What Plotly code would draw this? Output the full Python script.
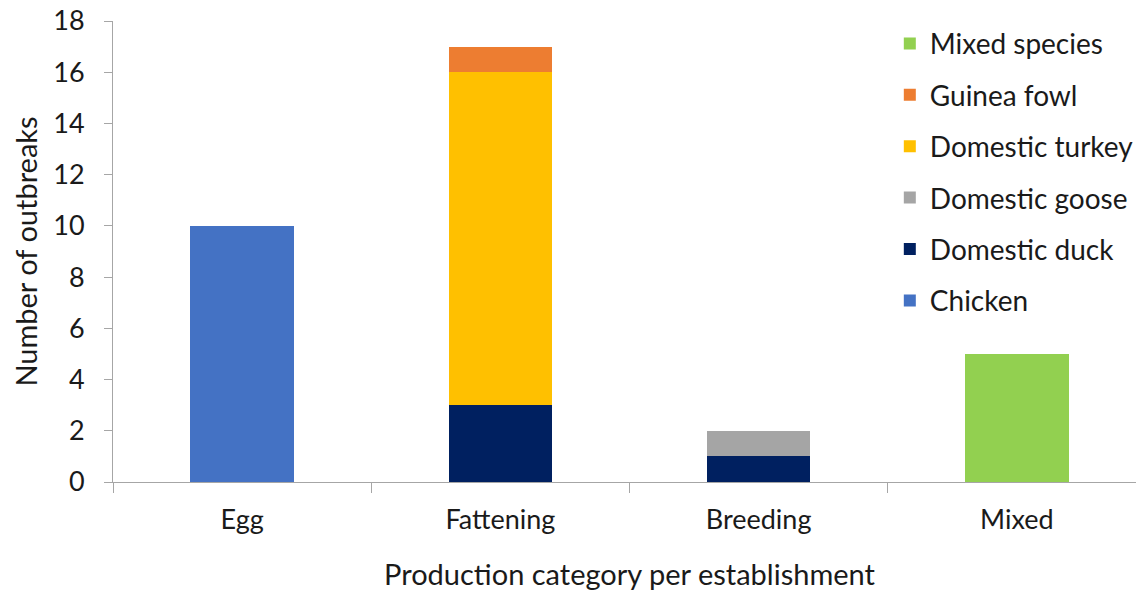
import plotly.graph_objects as go

categories = ["Egg", "Fattening", "Breeding", "Mixed"]
chicken = [10, 0, 0, 0]
domestic_duck = [0, 3, 1, 0]
domestic_goose = [0, 0, 1, 0]
domestic_turkey = [0, 13, 0, 0]
guinea_fowl = [0, 1, 0, 0]
mixed_species = [0, 0, 0, 5]

series = [
    ("Chicken", chicken, "#4472C4"),
    ("Domestic duck", domestic_duck, "#002060"),
    ("Domestic goose", domestic_goose, "#A5A5A5"),
    ("Domestic turkey", domestic_turkey, "#FFC000"),
    ("Guinea fowl", guinea_fowl, "#ED7D31"),
    ("Mixed species", mixed_species, "#92D050"),
]

fig = go.Figure()
n = len(series)
for i, (name, vals, col) in enumerate(series):
    fig.add_trace(go.Bar(x=categories, y=vals, name=name, marker_color=col,
                         marker_line_width=0, legendgroup=f"g{i}",
                         legendrank=100 * (n - i)))

font_family = "Lato, 'Open Sans', sans-serif"
fig.update_layout(
    barmode="stack",
    bargap=0.6,
    width=1144, height=593,
    margin=dict(l=105, r=6, t=13, b=119),
    paper_bgcolor="white", plot_bgcolor="white",
    font=dict(family=font_family, size=27, color="#1a1a1a"),
    legend=dict(x=0.752, y=1.005, xanchor="left", yanchor="top",
                traceorder="grouped", tracegroupgap=12,
                font=dict(size=28, color="#1a1a1a"), itemwidth=30,
                bgcolor="rgba(255,255,255,0)"),
    xaxis=dict(range=[-0.5, 3.5], showline=True, linecolor="#A6A6A6", linewidth=1,
               ticks="outside", tickson="boundaries", ticklen=10, tickcolor="#A6A6A6",
               tickfont=dict(size=27), showgrid=False, automargin=False,
               ticklabelstandoff=14, ticklabeloverflow="allow",
               title=dict(text="Production category per establishment", font=dict(size=29), standoff=30)),
    yaxis=dict(range=[0, 18], dtick=2, showline=True, linecolor="#A6A6A6", linewidth=1,
               ticks="outside", ticklen=8, tickcolor="#A6A6A6", showgrid=False, zeroline=False,
               tickfont=dict(size=27), automargin=False, ticklabelstandoff=14,
               ticklabeloverflow="allow",
               title=dict(text="Number of outbreaks", font=dict(size=29), standoff=18)),
)
fig.write_html("out.html")
